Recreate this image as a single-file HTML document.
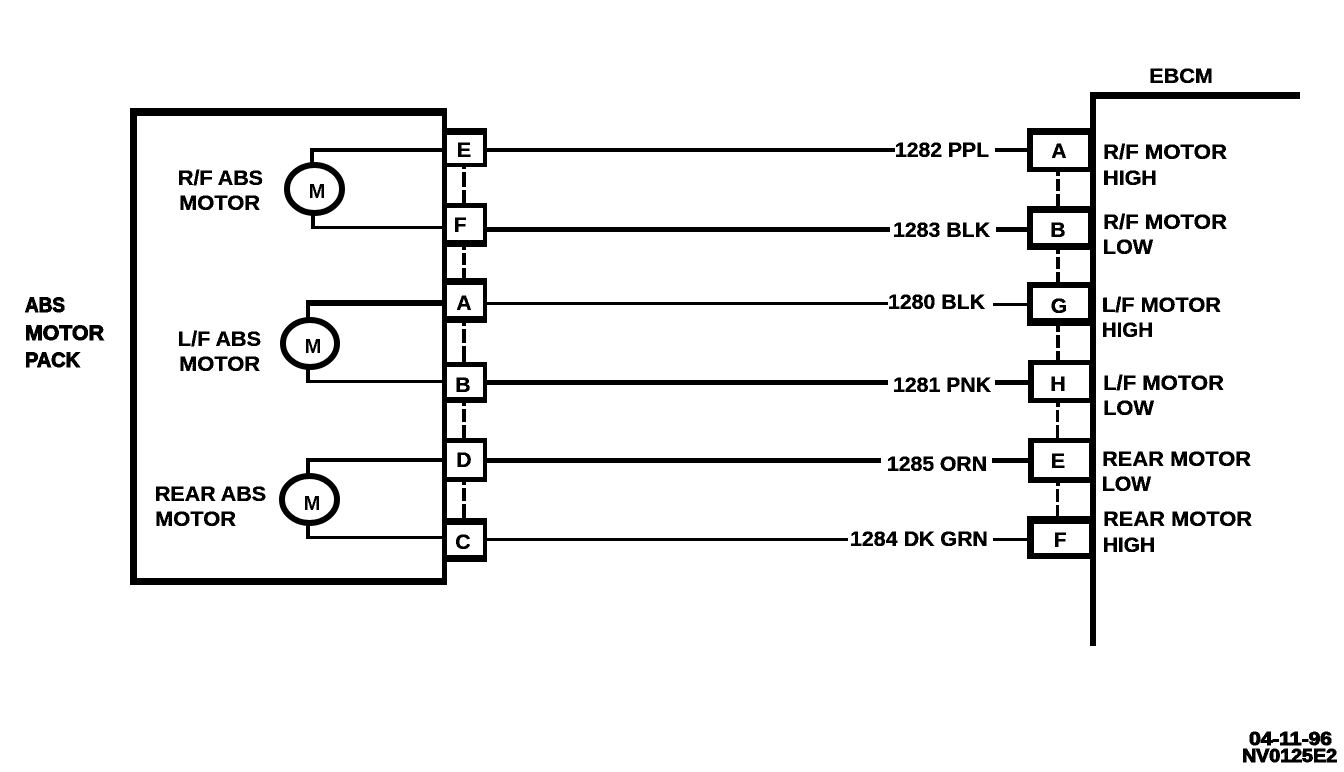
<!DOCTYPE html>
<html>
<head>
<meta charset="utf-8">
<title>ABS Motor Pack wiring diagram</title>
<style>
html,body{margin:0;padding:0;background:#fff;width:1344px;height:772px;overflow:hidden}
svg{display:block}
text{font-family:"Liberation Sans",Arial,sans-serif;font-weight:bold;font-size:21px;fill:#000;stroke:#000;stroke-width:.35px}
.h text{stroke-width:1px}
.c{text-anchor:middle}
.m{stroke-width:0;font-size:20px}
.s{font-size:18px}
</style>
</head>
<body>
<svg xmlns="http://www.w3.org/2000/svg" width="1344" height="772" viewBox="0 0 1344 772">
<defs>
<filter id="t" x="0" y="0" width="100%" height="100%" color-interpolation-filters="sRGB">
<feComponentTransfer><feFuncA type="discrete" tableValues="0 1"/></feComponentTransfer>
</filter>
</defs>
<rect width="1344" height="772" fill="#fff"/>
<g shape-rendering="crispEdges" fill="#000">
<!-- module box -->
<rect x="130" y="108" width="317" height="477"/>
<rect x="137" y="116" width="305" height="462" fill="#fff"/>
<!-- EBCM bus -->
<rect x="1090" y="92" width="210" height="7"/>
<rect x="1090" y="92" width="6" height="554"/>
<!-- internal wires -->
<rect x="310" y="148" width="135" height="4"/><rect x="310" y="148" width="4" height="18"/>
<rect x="311" y="212" width="4" height="17"/><rect x="311" y="226" width="134" height="3"/>
<rect x="306" y="300" width="139" height="6"/><rect x="306" y="300" width="4" height="20"/>
<rect x="306" y="367" width="4" height="16"/><rect x="306" y="380" width="139" height="3"/>
<rect x="306" y="458" width="139" height="4"/><rect x="306" y="458" width="4" height="18"/>
<rect x="306" y="523" width="4" height="16"/><rect x="306" y="536" width="139" height="3"/>
<!-- harness wires -->
<rect x="485" y="148" width="410" height="4"/><rect x="995" y="148" width="34" height="4"/>
<rect x="485" y="227" width="405" height="5"/><rect x="996" y="227" width="33" height="5"/>
<rect x="485" y="302" width="403" height="3"/><rect x="993" y="303" width="36" height="3"/>
<rect x="485" y="380" width="403" height="5"/><rect x="995" y="380" width="35" height="5"/>
<rect x="485" y="458" width="396" height="5"/><rect x="992" y="458" width="38" height="5"/>
<rect x="485" y="538" width="363" height="3"/><rect x="993" y="538" width="35" height="3"/>
<!-- dashed shields, left -->
<g>
<rect x="462" y="166" width="4" height="3"/><rect x="462" y="172" width="4" height="15"/><rect x="462" y="190" width="4" height="14"/>
<rect x="462" y="247" width="4" height="3"/><rect x="462" y="253" width="4" height="12"/><rect x="462" y="268" width="4" height="11"/>
<rect x="462" y="323" width="4" height="3"/><rect x="462" y="329" width="4" height="14"/><rect x="462" y="346" width="4" height="16"/>
<rect x="462" y="403" width="4" height="3"/><rect x="462" y="409" width="4" height="13"/><rect x="462" y="425" width="4" height="14"/>
<rect x="462" y="482" width="4" height="3"/><rect x="462" y="488" width="4" height="13"/><rect x="462" y="504" width="4" height="15"/>
</g>
<!-- dashed shields, right -->
<g>
<rect x="1056" y="172" width="4" height="4"/><rect x="1056" y="179" width="4" height="12"/><rect x="1056" y="194" width="4" height="12"/>
<rect x="1056" y="250" width="4" height="4"/><rect x="1056" y="257" width="4" height="12"/><rect x="1056" y="272" width="4" height="10"/>
<rect x="1056" y="326" width="4" height="6"/><rect x="1056" y="335" width="4" height="13"/><rect x="1056" y="351" width="4" height="10"/>
<rect x="1056" y="403" width="4" height="4"/><rect x="1056" y="410" width="3" height="12"/><rect x="1056" y="425" width="3" height="13"/>
<rect x="1056" y="483" width="4" height="3"/><rect x="1056" y="489" width="3" height="13"/><rect x="1056" y="505" width="3" height="11"/>
</g>
<!-- left connectors -->
<rect x="443" y="128" width="44" height="39"/><rect x="447" y="135" width="36" height="28" fill="#fff"/>
<rect x="443" y="203" width="44" height="44"/><rect x="447" y="208" width="36" height="32" fill="#fff"/>
<rect x="443" y="278" width="44" height="45"/><rect x="447" y="285" width="36" height="31" fill="#fff"/>
<rect x="443" y="362" width="44" height="41"/><rect x="447" y="367" width="36" height="30" fill="#fff"/>
<rect x="443" y="438" width="44" height="44"/><rect x="447" y="443" width="36" height="34" fill="#fff"/>
<rect x="443" y="518" width="44" height="44"/><rect x="447" y="525" width="36" height="30" fill="#fff"/>
<!-- right connectors -->
<rect x="1027" y="128" width="66" height="44"/><rect x="1033" y="135" width="55" height="32" fill="#fff"/>
<rect x="1027" y="206" width="66" height="44"/><rect x="1033" y="213" width="55" height="30" fill="#fff"/>
<rect x="1027" y="282" width="66" height="44"/><rect x="1033" y="288" width="55" height="30" fill="#fff"/>
<rect x="1028" y="360" width="66" height="43"/><rect x="1034" y="365" width="55" height="33" fill="#fff"/>
<rect x="1028" y="438" width="66" height="45"/><rect x="1034" y="443" width="55" height="34" fill="#fff"/>
<rect x="1027" y="516" width="66" height="43"/><rect x="1034" y="524" width="55" height="29" fill="#fff"/>
</g>
<!-- motors -->
<g fill="#fff" stroke="#000" stroke-width="6">
<ellipse cx="314.5" cy="189" rx="27.5" ry="24"/>
<ellipse cx="310" cy="343.5" rx="27" ry="23.5"/>
<ellipse cx="309.5" cy="499.5" rx="27.5" ry="23.5"/>
</g>
<g filter="url(#t)">
<text x="178" y="185" textLength="85" lengthAdjust="spacingAndGlyphs">R/F ABS</text>
<text x="179" y="210" textLength="81" lengthAdjust="spacingAndGlyphs">MOTOR</text>
<text x="178" y="346" textLength="83" lengthAdjust="spacingAndGlyphs">L/F ABS</text>
<text x="179" y="371" textLength="81" lengthAdjust="spacingAndGlyphs">MOTOR</text>
<text x="155" y="501" textLength="111" lengthAdjust="spacingAndGlyphs">REAR ABS</text>
<text x="155" y="526" textLength="81" lengthAdjust="spacingAndGlyphs">MOTOR</text>
<g class="c">
<text class="m" x="317" y="198">M</text>
<text class="m" x="313" y="353">M</text>
<text class="m" x="312" y="510">M</text>
<text x="464" y="157">E</text>
<text x="460" y="232">F</text>
<text x="464" y="310">A</text>
<text x="463" y="392">B</text>
<text x="464" y="467">D</text>
<text x="463" y="549">C</text>
<text x="1059" y="158">A</text>
<text x="1058" y="237">B</text>
<text x="1059" y="313">G</text>
<text x="1058" y="391">H</text>
<text x="1058" y="468">E</text>
<text x="1060" y="547">F</text>
</g>
<text x="895" y="157" textLength="94" lengthAdjust="spacingAndGlyphs">1282 PPL</text>
<text x="893" y="237" textLength="97" lengthAdjust="spacingAndGlyphs">1283 BLK</text>
<text x="888" y="309" textLength="97" lengthAdjust="spacingAndGlyphs">1280 BLK</text>
<text x="893" y="392" textLength="98" lengthAdjust="spacingAndGlyphs">1281 PNK</text>
<text x="887" y="471" textLength="100" lengthAdjust="spacingAndGlyphs">1285 ORN</text>
<text x="850" y="546" textLength="138" lengthAdjust="spacingAndGlyphs">1284 DK GRN</text>
<text x="1103" y="159" textLength="124" lengthAdjust="spacingAndGlyphs">R/F MOTOR</text>
<text x="1103" y="185" textLength="54" lengthAdjust="spacingAndGlyphs">HIGH</text>
<text x="1103" y="229" textLength="124" lengthAdjust="spacingAndGlyphs">R/F MOTOR</text>
<text x="1103" y="254" textLength="50" lengthAdjust="spacingAndGlyphs">LOW</text>
<text x="1102" y="312" textLength="119" lengthAdjust="spacingAndGlyphs">L/F MOTOR</text>
<text x="1102" y="337" textLength="51" lengthAdjust="spacingAndGlyphs">HIGH</text>
<text x="1103" y="390" textLength="121" lengthAdjust="spacingAndGlyphs">L/F MOTOR</text>
<text x="1103" y="415" textLength="51" lengthAdjust="spacingAndGlyphs">LOW</text>
<text x="1102" y="466" textLength="149" lengthAdjust="spacingAndGlyphs">REAR MOTOR</text>
<text x="1102" y="491" textLength="49" lengthAdjust="spacingAndGlyphs">LOW</text>
<text x="1103" y="526" textLength="149" lengthAdjust="spacingAndGlyphs">REAR MOTOR</text>
<text x="1103" y="552" textLength="52" lengthAdjust="spacingAndGlyphs">HIGH</text>
<text x="1149" y="83" textLength="64" lengthAdjust="spacingAndGlyphs">EBCM</text>
<g class="h">
<text x="25" y="312" textLength="40" lengthAdjust="spacingAndGlyphs">ABS</text>
<text x="25" y="340" textLength="79" lengthAdjust="spacingAndGlyphs">MOTOR</text>
<text x="25" y="367" textLength="55" lengthAdjust="spacingAndGlyphs">PACK</text>
<text class="s" x="1249" y="745" textLength="83" lengthAdjust="spacingAndGlyphs">04-11-96</text>
<text class="s" x="1242" y="762" textLength="95" lengthAdjust="spacingAndGlyphs">NV0125E2</text>
</g>
</g>
</svg>
</body>
</html>
